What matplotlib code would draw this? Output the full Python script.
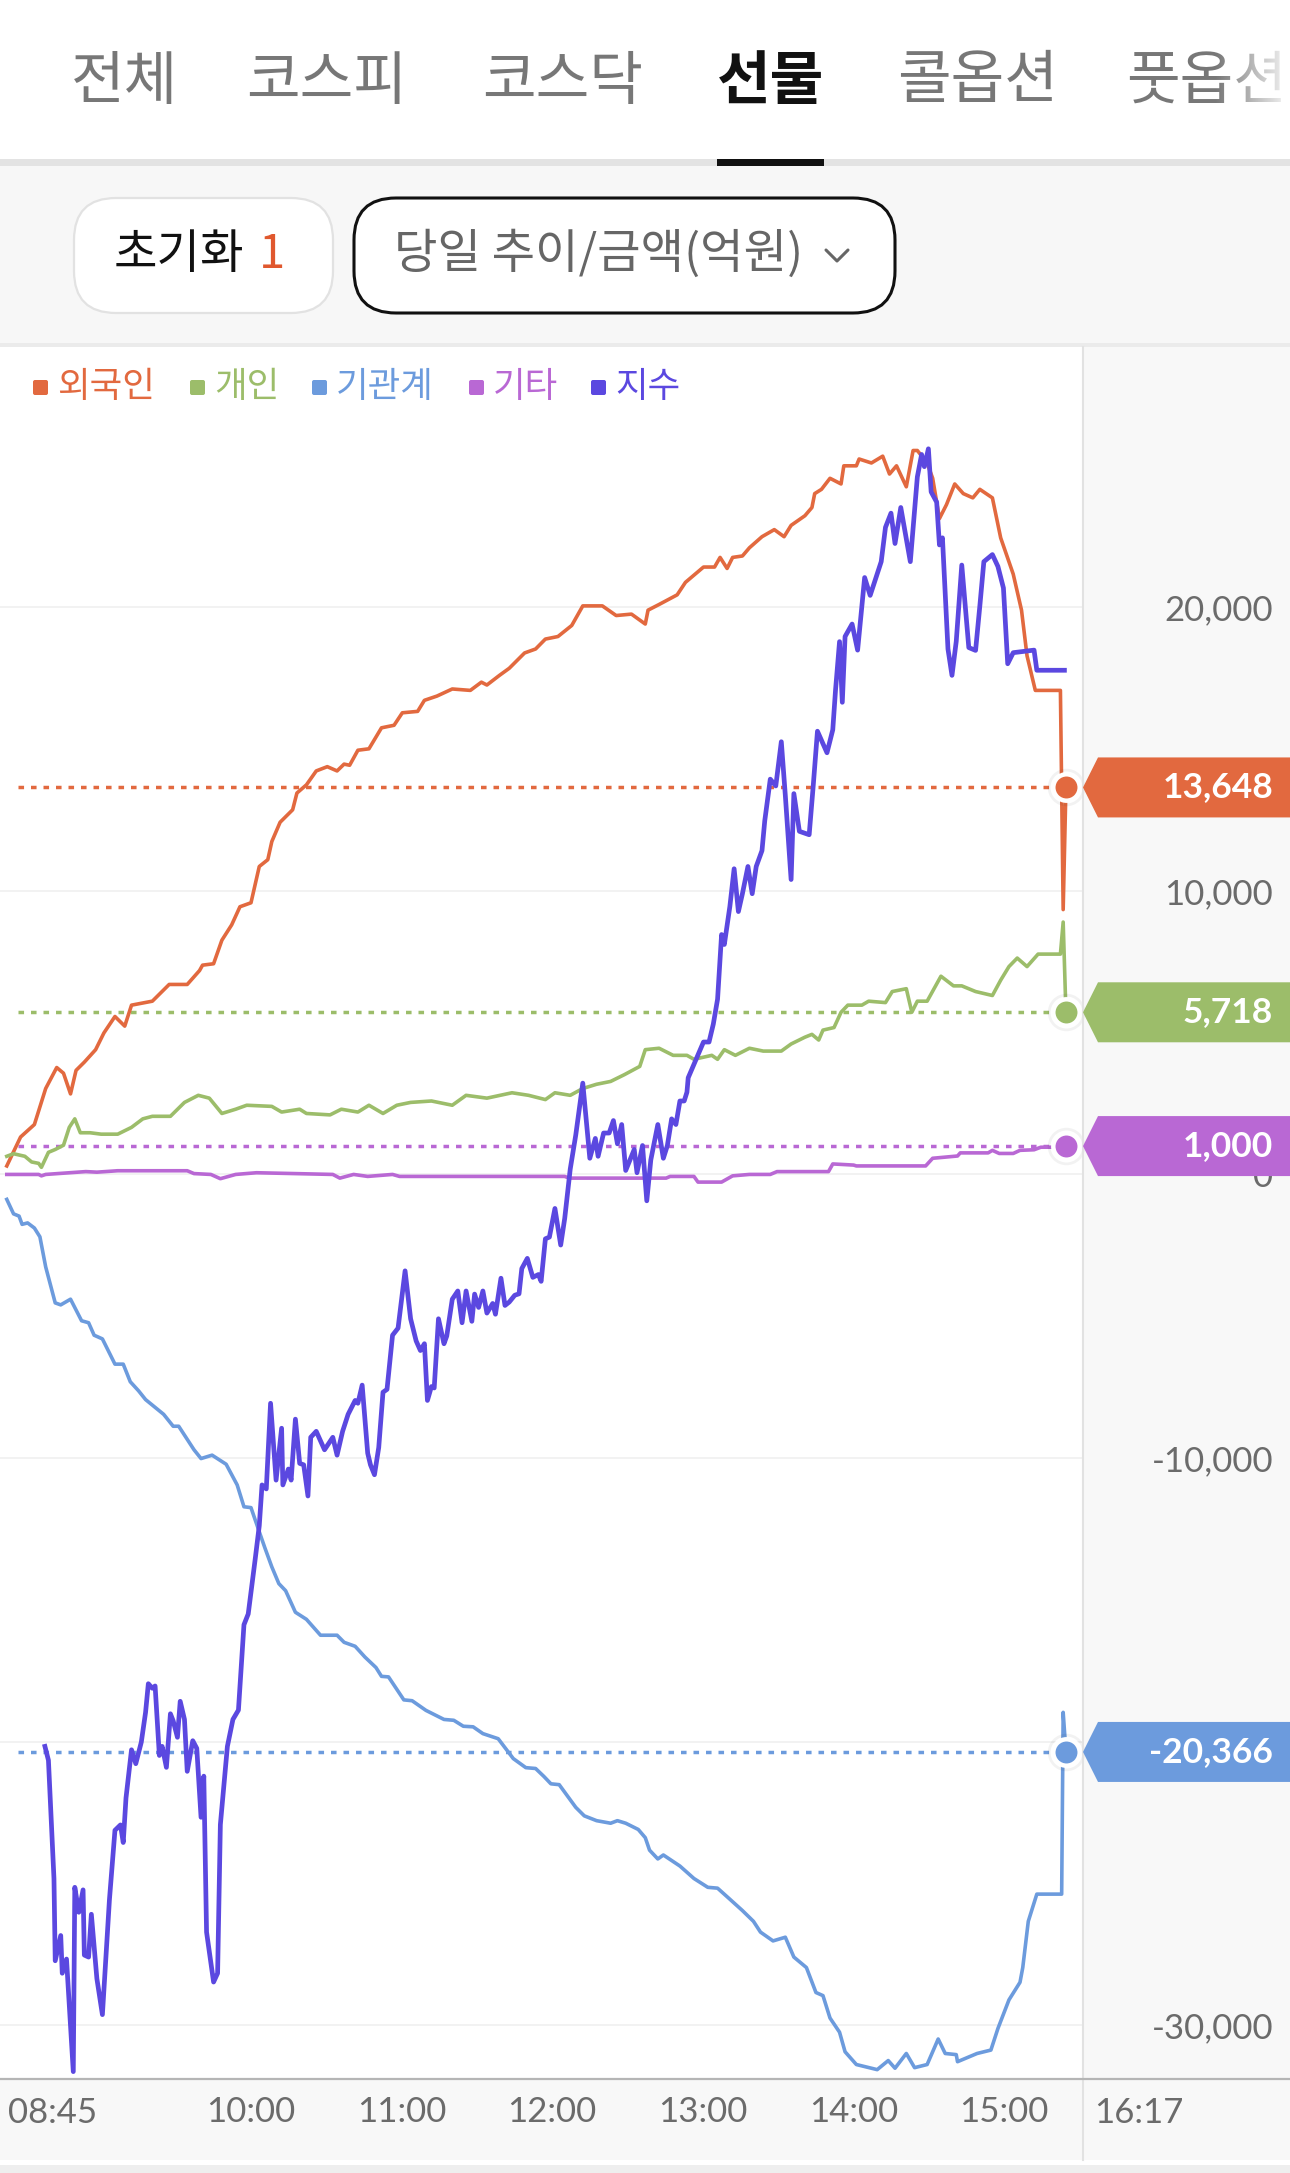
"""선물 투자자별 당일 추이/금액(억원) 차트를 matplotlib으로 다시 그림."""
import matplotlib
matplotlib.use("Agg")
import matplotlib.pyplot as plt
import numpy as np
from matplotlib.patches import Polygon, Rectangle, FancyBboxPatch

# ---- data: time = minutes after 08:00, values in 억원 ----
t_frgn = [22.7, 28.2, 33.7, 38.2, 42.6, 45.3, 48.1, 50.3, 53.6, 58.1, 61.4, 65.8, 69.7, 72.4,
          80.7, 87.4, 94.6, 99.5, 100.7, 105.1, 108.4, 112.3, 115.6, 120.0, 123.3, 126.7,
          128.3, 131.6, 136.6, 138.3, 142.1, 146.0, 150.4, 154.3, 157.1, 159.3, 162.6, 167.0,
          172.0, 177.0, 180.3, 186.4, 189.1, 194.1, 200.2, 207.4, 211.8, 214.0, 219.0, 222.9,
          229.0, 233.4, 237.3, 242.3, 247.8, 252.2, 260.0, 265.5, 271.6, 277.1, 278.2, 282.6,
          289.8, 293.1, 300.3, 304.7, 306.9, 309.7, 311.9, 315.8, 318.6, 323.6, 328.5, 332.4,
          335.2, 340.7, 343.5, 344.6, 347.3, 350.7, 355.1, 356.2, 361.2, 362.3, 367.2, 371.7,
          374.4, 377.2, 381.1, 383.8, 385.5, 389.4, 391.6, 394.3, 397.1, 400.4, 403.8, 407.6,
          410.4, 415.4, 418.7, 423.7, 427.0, 429.2, 432.5, 442.5, 443.6, 444.7]
v_frgn = [300, 1320, 1760, 3030, 3770, 3570, 2840, 3670, 3960, 4400, 4990, 5570, 5230, 5970,
          6110, 6700, 6700, 7190, 7380, 7430, 8260, 8800, 9440, 9580, 10860, 11100,
          11740, 12420, 12860, 13450, 13740, 14230, 14380, 14230, 14470, 14430, 14960, 15010,
          15750, 15840, 16280, 16330, 16720, 16870, 17120, 17070, 17360, 17260, 17600, 17850,
          18390, 18530, 18880, 18970, 19360, 20050, 20050, 19710, 19760, 19410, 19900, 20100,
          20440, 20880, 21420, 21420, 21760, 21370, 21760, 21810, 22100, 22490, 22740, 22490,
          22890, 23230, 23520, 24010, 24160, 24550, 24350, 24990, 24990, 25230, 25090, 25330,
          24700, 24990, 24250, 25530, 25530, 25090, 24550, 23130, 23620, 24350, 24010, 23860,
          24160, 23860, 22450, 21170, 19900, 18290, 17070, 17070, 9340, 13648]

t_indiv = [22.7, 25.4, 29.9, 32.6, 35.4, 36.5, 39.3, 42.0, 45.3, 47.6, 49.8, 52.0, 55.9, 60.3,
           66.9, 72.4, 76.9, 80.7, 87.9, 93.5, 99.0, 103.4, 108.4, 113.9, 118.3, 128.3, 132.2,
           139.4, 142.1, 151.5, 156.0, 162.6, 167.0, 172.6, 178.1, 183.6, 191.9, 200.2, 205.7,
           214.0, 224.0, 230.6, 237.3, 241.1, 247.2, 252.2, 257.7, 263.3, 268.8, 274.9, 277.1,
           282.6, 288.2, 293.7, 296.5, 303.6, 305.9, 308.6, 313.0, 318.6, 324.1, 331.3, 335.2,
           340.7, 343.5, 346.2, 347.9, 352.3, 355.1, 357.8, 363.4, 366.1, 372.8, 375.5, 381.1,
           383.3, 385.5, 389.4, 394.9, 399.9, 403.2, 408.7, 415.4, 418.7, 422.0, 425.3, 429.2,
           433.6, 442.5, 443.6, 444.7]
v_indiv = [640, 730, 640, 440, 390, 250, 780, 880, 1030, 1660, 1960, 1470, 1470, 1420,
           1420, 1660, 1960, 2050, 2050, 2540, 2790, 2690, 2150, 2300, 2440, 2400, 2200,
           2300, 2150, 2100, 2300, 2200, 2440, 2150, 2440, 2540, 2590, 2440, 2790,
           2690, 2880, 2790, 2640, 2880, 2790, 3030, 3180, 3280, 3520, 3810, 4400,
           4450, 4200, 4200, 4060, 4200, 4060, 4400, 4200, 4450, 4350, 4350, 4600,
           4840, 4940, 4740, 5090, 5180, 5720, 5970, 5970, 6110, 6060, 6450, 6550,
           5720, 6110, 6110, 6990, 6650, 6650, 6450, 6310, 6850, 7330, 7630, 7330,
           7770, 7770, 8900, 5718]

t_inst = [22.7, 25.4, 27.6, 28.8, 31.0, 33.7, 35.9, 38.2, 42.0, 44.2, 48.1, 52.5, 55.3, 57.5,
          60.8, 65.8, 69.1, 71.9, 75.2, 78.0, 85.2, 89.0, 91.2, 97.3, 100.1, 104.5, 110.1,
          114.5, 117.2, 120.0, 123.3, 125.5, 128.3, 131.1, 133.8, 137.7, 142.1, 147.7, 154.3,
          157.1, 161.5, 165.4, 169.8, 172.0, 174.8, 180.9, 184.2, 189.7, 196.9, 200.8, 204.6,
          208.5, 212.4, 218.5, 224.5, 229.5, 233.4, 236.7, 239.5, 242.8, 245.6, 249.4, 252.8,
          257.7, 263.3, 266.0, 269.3, 274.3, 277.1, 278.8, 282.1, 284.3, 290.9, 296.5, 302.0,
          305.9, 310.3, 315.8, 320.2, 323.0, 328.0, 332.9, 336.3, 341.3, 345.1, 347.9, 350.7,
          354.5, 356.7, 361.2, 369.5, 373.9, 376.6, 381.1, 384.4, 389.4, 393.8, 396.6, 401.0,
          401.5, 409.3, 414.8, 417.6, 422.0, 426.4, 427.5, 429.7, 433.1, 443.0, 443.6, 444.7]
v_inst = [-880, -1390, -1470, -1760, -1710, -1890, -2200, -3260, -4530, -4600, -4400, -5160,
          -5230, -5670, -5800, -6690, -6690, -7310, -7630, -7940, -8460, -8880, -8880, -9710,
          -10020, -9900, -10220, -10950, -11720, -11750, -12600, -13160, -13840, -14430,
          -14680, -15440, -15690, -16250, -16250, -16500, -16640, -17020, -17390, -17700,
          -17720, -18530, -18560, -18900, -19220, -19250, -19460, -19480, -19720, -19900,
          -20600, -20920, -20950, -21230, -21490, -21520, -21860, -22320, -22620, -22790,
          -22880, -22790, -22880, -23100, -23390, -23830, -24140, -24000, -24390, -24830,
          -25140, -25170, -25520, -25960, -26340, -26720, -27030, -26900, -27600, -27970,
          -28850, -28960, -29750, -30250, -30940, -31390, -31570, -31250, -31520, -31000,
          -31500, -31390, -30490, -31000, -31040, -31290, -31000, -30880, -30120, -29110,
          -28490, -27970, -26340, -25380, -25380, -18970, -20366]

t_etc = [22.7, 35.4, 36.5, 38.2, 54.2, 58.6, 66.9, 94.6, 97.3, 104.0, 107.8, 113.9, 122.2,
         152.6, 155.4, 160.9, 166.5, 176.4, 179.2, 245.0, 246.7, 285.4, 287.0, 296.5, 298.1,
         307.5, 311.9, 318.6, 326.9, 329.6, 350.1, 351.8, 360.1, 361.2, 388.8, 391.6, 401.5,
         402.6, 413.7, 415.4, 418.1, 423.7, 426.4, 432.0, 434.7, 443.0, 444.7]
v_etc = [0, 0, -50, 0, 100, 80, 130, 130, 30, 0, -150, 0, 60,
         0, -130, 0, -70, 0, -70, -70, -130, -130, -70, -70, -270,
         -270, -50, 0, 0, 100, 100, 370, 330, 300, 300, 570, 650,
         760, 760, 850, 740, 740, 850, 870, 960, 960, 1000]

# 지수 line, read in the same chart units as the investor lines
t_idx = [37.9, 39.3, 41.5, 42.0, 44.2, 44.8, 46.5, 49.2, 49.8, 51.4, 53.1, 53.6, 55.3, 56.4,
         58.6, 60.8, 63.6, 65.8, 68.0, 69.1, 70.2, 72.4, 74.1, 76.3, 78.0, 79.1, 80.7, 81.8,
         83.5, 84.6, 86.3, 87.9, 89.0, 90.7, 91.8, 93.5, 94.6, 96.8, 98.4, 100.1, 101.2, 102.3,
         105.1, 106.7, 107.8, 110.6, 112.8, 115.0, 117.2, 118.9, 120.0, 121.7, 123.3, 124.4,
         126.1, 127.8, 130.0, 132.2, 132.7, 134.9, 136.0, 137.7, 139.4, 141.0, 142.7, 143.8,
         146.0, 149.3, 152.6, 154.3, 156.5, 158.7, 161.5, 162.6, 164.3, 166.5, 167.6, 169.2,
         170.9, 172.6, 174.2, 176.4, 178.6, 181.4, 183.6, 185.8, 187.5, 189.1, 190.3, 191.9,
         193.0, 194.7, 196.9, 198.0, 200.2, 202.4, 204.1, 205.7, 208.0, 209.1, 210.7, 212.4,
         214.0, 216.3, 217.4, 219.6, 221.2, 222.9, 225.1, 226.8, 227.9, 230.1, 232.3, 234.5,
         235.6, 237.3, 238.9, 241.1, 243.4, 245.0, 247.2, 249.4, 252.2, 255.0, 257.2, 258.3,
         260.5, 262.7, 264.4, 266.0, 267.7, 269.3, 272.7, 273.8, 276.0, 277.7, 279.3, 282.1,
         284.3, 285.9, 287.6, 289.3, 290.9, 292.6, 293.7, 294.2, 297.6, 300.3, 302.5, 304.2,
         305.9, 307.5, 308.6, 310.8, 312.5, 314.2, 315.8, 318.0, 319.7, 321.3, 323.6, 324.7,
         326.9, 329.1, 331.3, 332.9, 335.2, 336.3, 338.5, 342.4, 344.0, 345.7, 349.5, 351.8,
         352.9, 354.5, 355.6, 356.7, 359.5, 361.7, 364.5, 366.7, 371.1, 372.8, 375.0, 376.6,
         378.9, 382.7, 385.5, 387.2, 388.3, 389.9, 391.0, 393.2, 394.3, 395.5, 397.7, 399.3,
         401.0, 403.2, 406.0, 408.7, 410.4, 412.0, 415.4, 417.6, 419.8, 421.5, 423.7, 432.0,
         433.1, 444.1]
v_idx = [-20170, -20660, -24830, -27730, -26840, -28170, -27670, -31640, -25140, -26020,
         -25230, -27530, -27600, -26090, -28360, -29630, -25580, -23130, -22940, -23560,
         -21990, -20290, -20780, -20020, -18970, -17960, -18120, -18040, -20490, -20170,
         -20910, -19020, -19270, -19850, -18580, -19220, -21050, -19970, -20240, -22670,
         -21220, -26720, -28480, -28170, -22930, -20170, -19220, -18890, -15880, -15500,
         -14740, -13550, -12390, -10950, -11090, -8070, -10780, -8950, -10950, -10390,
         -10780, -8630, -10190, -10240, -11340, -9270, -9060, -9710, -9270, -9900,
         -9060, -8460, -7970, -8070, -7430, -9830, -10240, -10590, -9630, -7680,
         -7580, -5670, -5420, -3400, -5090, -5870, -6210, -5970, -7970, -7480,
         -7530, -5090, -5970, -5700, -4400, -4110, -5230, -4110, -5180, -4220,
         -4690, -4110, -4890, -4550, -4930, -3660, -4620, -4500, -4260, -4210,
         -3320, -2960, -3630, -3530, -3770, -2270, -2210, -1200, -2490, -1550,
         190, 1390, 3220, 570, 1270, 640, 1460, 1460, 1900, 1080,
         1760, 140, 880, 60, 1020, -930, 510, 1760, 570, 1020,
         1960, 1760, 2590, 2590, 2900, 3410, 4110, 4670, 4670, 5300,
         6180, 8460, 8110, 9450, 10780, 9270, 9900, 10860, 9900, 10860,
         11420, 12470, 13940, 13700, 15260, 13360, 10400, 13430, 12100, 11980,
         13690, 15630, 14870, 15680, 17080, 18790, 16650, 18970, 19410, 18490,
         21050, 20420, 21610, 22820, 23320, 22250, 23520, 21610, 24600, 25390,
         24960, 25590, 24070, 23710, 22200, 22450, 18530, 17600, 18800, 21490,
         18580, 18480, 20050, 21610, 21860, 21440, 20680, 18010, 18400, 18490,
         17780, 17780]

names = ["외국인", "개인", "기관계", "기타", "지수"]
colors = ["#e2693f", "#9cbd6a", "#6c9bdd", "#b968d4", "#5b48e0"]
hour_ticks = [120, 180, 240, 300, 360, 420]
hour_labels = ["10:00", "11:00", "12:00", "13:00", "14:00", "15:00"]
y_ticks = [-30000, -20000, -10000, 0, 10000, 20000]
y_hidden = [-20000]          # label sits under the 기관계 value tag
tabs = ["전체", "코스피", "코스닥", "선물", "콜옵션", "풋옵션"]
active_tab = "선물"

# ---- figure / layout (pixel units of the 1290x2173 screenshot) ----
W, H = 1290, 2173
plt.rcParams["axes.unicode_minus"] = False
KR = ["Noto Sans CJK KR", "DejaVu Sans"]
NUM = ["Lato", "DejaVu Sans"]
plt.rcParams["font.family"] = KR
GRAY = "#6b6b6b"

fig = plt.figure(figsize=(W / 100, H / 100), dpi=100, facecolor="white")


def box(x0, y0, x1, y1):
    return [x0 / W, 1 - y1 / H, (x1 - x0) / W, (y1 - y0) / H]


bg = fig.add_axes([0, 0, 1, 1], zorder=0)
bg.set_xlim(0, W); bg.set_ylim(H, 0); bg.axis("off")
for x0, y0, x1, y1, c in [(0, 159, W, 166, "#e3e3e3"), (717, 159, 824, 166, "#111111"),
                          (0, 166, W, 343, "#f7f7f7"), (0, 343, W, 347, "#ebebeb"),
                          (1083, 347, W, 2160, "#f8f8f8"), (0, 2079, W, 2160, "#f8f8f8"),
                          (0, 2165, W, H, "#eeeeee")]:
    bg.add_patch(Rectangle((x0, y0), x1 - x0, y1 - y0, color=c, lw=0))

ax = fig.add_axes(box(0, 347, 1083, 2079), zorder=1)
ov = fig.add_axes([0, 0, 1, 1], zorder=2)
ov.set_xlim(0, W); ov.set_ylim(H, 0); ov.axis("off")

# ---- main chart ----
ax.set_facecolor("white")
ax.set_xlim(20, 451.5)
ax.set_ylim(-31900, 29180)
for s in ax.spines.values():
    s.set_visible(False)
ax.yaxis.tick_right()
ax.set_yticks(y_ticks)
ax.set_yticklabels(["" if v in y_hidden else f"{v:,}" for v in y_ticks], ha="right")
ax.tick_params(axis="y", length=0, pad=137, labelsize=25, labelcolor=GRAY)
ax.set_xticks(hour_ticks)
ax.set_xticklabels(hour_labels)
ax.tick_params(axis="x", length=0, pad=12, labelsize=25, labelcolor=GRAY)
for lab in ax.get_xticklabels() + ax.get_yticklabels():
    lab.set_fontfamily(NUM)
ax.grid(axis="y", color="#efefef", lw=1.1)
ax.set_axisbelow(True)

series = [(t_frgn, v_frgn), (t_indiv, v_indiv), (t_inst, v_inst), (t_etc, v_etc), (t_idx, v_idx)]
for (t, v), c, name in zip(series, colors, names):
    ax.plot(t, v, color=c, lw=3.4 if name == "지수" else 2.6,
            solid_joinstyle="round", zorder=4 if name == "지수" else 3)

DOT_X0 = 27.2
for (t, v), c in zip(series[:4], colors[:4]):
    ax.hlines(v[-1], DOT_X0, t[-1], colors=c, lw=2.5, linestyles=(0, (1.6, 2.0)), zorder=2)
    ax.plot(t[-1], v[-1], "o", ms=25, mfc="none", mec=(0, 0, 0, 0.05), mew=2,
            zorder=5, clip_on=False)
    ax.plot(t[-1], v[-1], "o", ms=19, mfc=c, mec="white", mew=3.2, zorder=6, clip_on=False)

# value tags on the right pane
for (t, v), c in zip(series[:4], colors[:4]):
    yd = ax.transData.transform((t[-1], v[-1]))[1]
    y = ov.transData.inverted().transform((0, yd))[1]
    ov.add_patch(Polygon([(1083, y), (1098, y - 30), (W, y - 30), (W, y + 30), (1098, y + 30)],
                         closed=True, color=c, lw=0, zorder=3))
    ov.text(1273, y, f"{v[-1]:,}", ha="right", va="center", color="white",
            fontsize=25.5, fontweight="bold", family=NUM, zorder=4)

# separators
ov.plot([1083, 1083], [347, 2160], color="#e2e2e2", lw=1.5, zorder=1)
ov.plot([0, W], [2079, 2079], color="#b5b5b5", lw=1.6, zorder=1)
ov.text(8, 2113, "08:45", ha="left", va="center", fontsize=25, color=GRAY, family=NUM)
ov.text(1094, 2113, "16:17", ha="left", va="center", fontsize=25, color=GRAY, family=NUM)

# legend
for i, (name, c) in enumerate(zip(names, colors)):
    x = [33, 190, 312, 469, 591][i]
    ov.add_patch(FancyBboxPatch((x, 380), 15, 15, boxstyle="round,pad=0,rounding_size=2",
                                color=c, lw=0))
    ov.text(x + 24, 387, name, ha="left", va="center", fontsize=25.5, color=c,
            family=KR, fontweight="medium")

# tabs
for name, xc in zip(tabs, [125, 327, 563, 771, 977, 1207]):
    on = name == active_tab
    ov.text(xc, 82, name, ha="center", va="center", fontsize=42, family=KR,
            color="#111111" if on else "#777777", fontweight="bold" if on else "normal")
grad = np.ones((1, 64, 4))
grad[..., 3] = np.linspace(0, 0.95, 64)
ov.imshow(grad, extent=(1215, W, 130, 30), aspect="auto", zorder=5)
ov.set_xlim(0, W); ov.set_ylim(H, 0)

# buttons
ov.add_patch(FancyBboxPatch((74, 198), 259, 115, boxstyle="round,pad=0,rounding_size=42",
                            fc="white", ec="#e2e2e2", lw=1.6))
ov.text(114, 255, "초기화", ha="left", va="center", fontsize=34, color="#111111", family=KR)
ov.text(259, 255, "1", ha="left", va="center", fontsize=34, color="#e0582e", family=KR)
ov.add_patch(FancyBboxPatch((354, 198), 541, 115, boxstyle="round,pad=0,rounding_size=42",
                            fc="white", ec="#111111", lw=2.2))
ov.text(394, 255, "당일 추이/금액(억원)", ha="left", va="center", fontsize=34,
        color="#666666", family=KR)
ov.plot([826, 837, 848], [250, 261, 250], color="#666666", lw=2.2, solid_capstyle="round")

fig.savefig("out.png", dpi=100, facecolor="white")
